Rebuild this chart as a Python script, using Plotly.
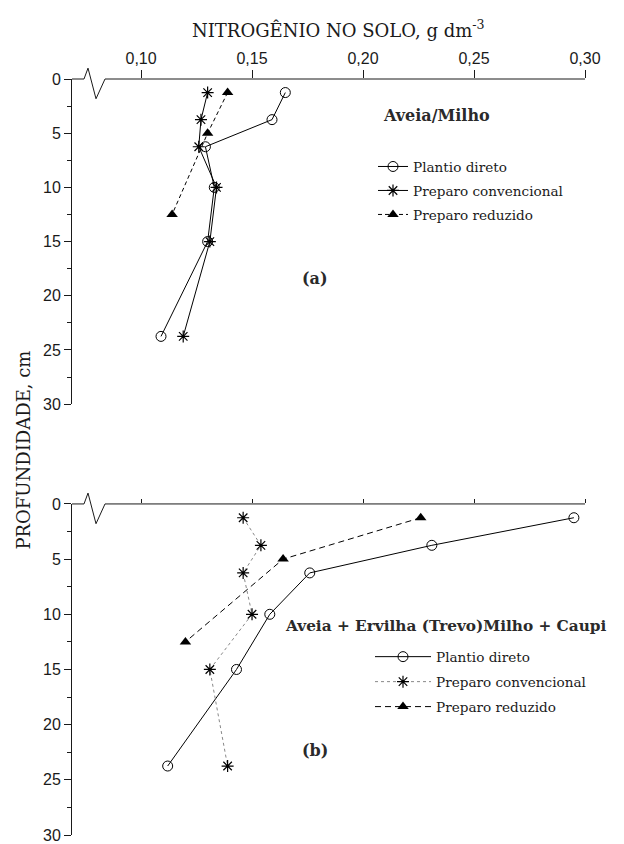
import plotly.graph_objects as go

# ---------------- data ----------------
depth6 = [1.25, 3.75, 6.25, 10, 15, 23.75]
depth3 = [1.25, 5, 12.5]

pd_a = [0.165, 0.159, 0.129, 0.133, 0.130, 0.109]
pc_a = [0.130, 0.127, 0.126, 0.134, 0.131, 0.119]
pr_a = [0.139, 0.130, 0.114]

pd_b = [0.295, 0.231, 0.176, 0.158, 0.143, 0.112]
pc_b = [0.146, 0.154, 0.146, 0.150, 0.131, 0.139]
pr_b = [0.226, 0.164, 0.120]

names = ["Plantio direto", "Preparo convencional", "Preparo reduzido"]
xtick_vals = [0.10, 0.15, 0.20, 0.25, 0.30]
xtick_text = ["0,10", "0,15", "0,20", "0,25", "0,30"]
ytick_vals = [0, 5, 10, 15, 20, 25, 30]

# ---------------- layout geometry ----------------
W, H = 624, 844
ML, MR, MT, MB = 64, 47, 71, 8
PW, PH = W - ML - MR, H - MT - MB

def px_x(px):
    return (px - ML) / PW

def px_y(py):
    return (H - MB - py) / PH

top_dom = [px_y(400), 1.0]
bot_dom = [0.0, px_y(501)]
top_h = 400 - MT
bot_h = (H - MB) - 501

SERIF = "DejaVu Serif"
SANS = "Liberation Sans"
INK = "#1a1a1a"

fig = go.Figure()

def add_set(xs_pd, xs_pc, xs_pr, xa, ya, leg, pc_style, pr_dash):
    fig.add_trace(go.Scatter(
        x=xs_pd, y=depth6, xaxis=xa, yaxis=ya, name=names[0], legend=leg,
        legendgroup=leg + "1", mode="lines+markers",
        line=dict(color="black", width=1),
        marker=dict(symbol="circle-open", size=10, color="black", line=dict(width=1)),
    ))
    fig.add_trace(go.Scatter(
        x=xs_pc, y=depth6, xaxis=xa, yaxis=ya, name=names[1], legend=leg,
        legendgroup=leg + "2", mode="lines+markers",
        line=pc_style,
        marker=dict(symbol="asterisk-open", size=10, color="black", line=dict(width=1.2, color="black")),
    ))
    fig.add_trace(go.Scatter(
        x=xs_pr, y=depth3, xaxis=xa, yaxis=ya, name=names[2], legend=leg,
        legendgroup=leg + "3", mode="lines+markers",
        line=dict(color="black", width=1, dash=pr_dash),
        marker=dict(symbol="triangle-up", size=10, color="black"),
    ))

add_set(pd_a, pc_a, pr_a, "x", "y", "legend",
        dict(color="black", width=1), "4px,3px")
add_set(pd_b, pc_b, pr_b, "x2", "y2", "legend2",
        dict(color="#888888", width=1, dash="dot"), "6px,4px")

xrange = [0.0689, 0.30]

def xaxis_cfg(labels, ticklen):
    return dict(
        domain=[0, 1], range=xrange, side="top", showline=False,
        showgrid=False, zeroline=False, ticks="outside", ticklen=ticklen,
        tickwidth=1, tickcolor=INK, tickvals=xtick_vals,
        ticktext=xtick_text, showticklabels=labels,
        tickfont=dict(family=SANS, size=16, color=INK),
    )

def yaxis_cfg(dom, anchor):
    return dict(
        domain=dom, anchor=anchor, range=[30, 0], showline=True,
        linecolor=INK, linewidth=1, showgrid=False, zeroline=False,
        ticks="outside", ticklen=7, tickwidth=1, tickcolor=INK,
        tickvals=ytick_vals,
        minor=dict(ticks="outside", ticklen=4, dtick=2.5, tickcolor=INK, tickwidth=1),
        tickfont=dict(family=SANS, size=16, color=INK),
    )

# axis line with break symbol (drawn in axis-domain fractions)
def break_shape(xref, yref, dom_px_h):
    def fx(px):
        return (px - ML) / PW
    up = 11 / dom_px_h
    dn = 20 / dom_px_h
    path = (f"M0,1 L{fx(76)},1 L{fx(80)},{1+up} L{fx(88)},{1-dn} "
            f"L{fx(97)},1 L1,1")
    return dict(type="path", xref=xref, yref=yref, path=path,
                line=dict(color=INK, width=1), layer="above")

shapes = [
    break_shape("x domain", "y domain", top_h),
    break_shape("x2 domain", "y2 domain", bot_h),
]

def legend_cfg(x, y, gap, itemwidth):
    return dict(
        x=x, y=y, xanchor="left", yanchor="top", bgcolor="rgba(0,0,0,0)",
        font=dict(family=SERIF, size=13.6, color=INK), borderwidth=0,
        tracegroupgap=gap, itemwidth=itemwidth,
    )

fig.update_layout(
    width=W, height=H,
    margin=dict(l=ML, r=MR, t=MT, b=MB),
    paper_bgcolor="white", plot_bgcolor="white",
    showlegend=True,
    xaxis=dict(**xaxis_cfg(True, 8), anchor="y"),
    yaxis=yaxis_cfg(top_dom, "x"),
    xaxis2=dict(**xaxis_cfg(False, 4), anchor="y2"),
    yaxis2=yaxis_cfg(bot_dom, "x2"),
    legend=legend_cfg(px_x(365), px_y(144), 3.3, 30),
    legend2=legend_cfg(px_x(362), px_y(640), 4.3, 56),
    shapes=shapes,
    annotations=[
        dict(text="NITROGÊNIO NO SOLO, g dm<sup>-3</sup>", x=px_x(330), y=px_y(20),
             xref="paper", yref="paper", showarrow=False, xanchor="center", yanchor="middle",
             font=dict(family=SERIF, size=18, color=INK)),
        dict(text="PROFUNDIDADE, cm", x=px_x(16), y=px_y(447), textangle=-90,
             xref="paper", yref="paper", showarrow=False, xanchor="center", yanchor="middle",
             font=dict(family=SERIF, size=18, color=INK)),
        dict(text="<b>Aveia/Milho</b>", x=px_x(373), y=px_y(108),
             xref="paper", yref="paper", showarrow=False, xanchor="left", yanchor="middle",
             font=dict(family=SERIF, size=16, color="#2a2a2a")),
        dict(text="<b>(a)</b>", x=px_x(307), y=px_y(273),
             xref="paper", yref="paper", showarrow=False, xanchor="center", yanchor="middle",
             font=dict(family=SERIF, size=16, color="#2a2a2a")),
        dict(text="<b>Aveia + Ervilha (Trevo)Milho + Caupi</b>", x=px_x(275), y=px_y(625),
             xref="paper", yref="paper", showarrow=False, xanchor="left", yanchor="middle",
             font=dict(family=SERIF, size=15.3, color="#2a2a2a")),
        dict(text="<b>(b)</b>", x=px_x(307), y=px_y(750),
             xref="paper", yref="paper", showarrow=False, xanchor="center", yanchor="middle",
             font=dict(family=SERIF, size=16, color="#2a2a2a")),
    ],
)

fig.write_html("out.html")
